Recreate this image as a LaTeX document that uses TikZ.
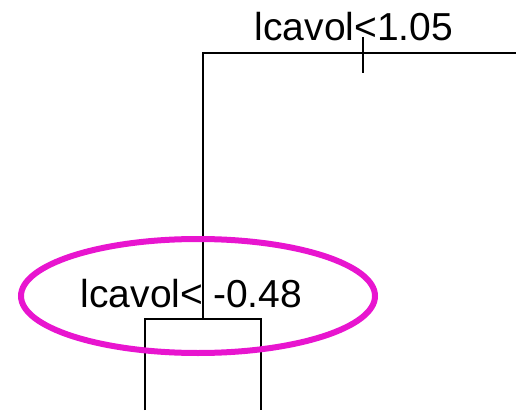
\documentclass[tikz,border=0pt]{standalone}
\usepackage{fontspec}
\setmainfont{Liberation Sans}
\definecolor{hl}{HTML}{E815CF}
\begin{document}
\begin{tikzpicture}[x=1pt,y=1pt,
  branch/.style={line width=1.3pt,black},
  lbl/.style={font=\fontsize{39}{39}\selectfont,inner sep=0pt,anchor=base},
  ring/.style={draw=hl,line width=6pt,ellipse}]
\useasboundingbox (0,0) rectangle (516,410);
% top split
\coordinate (rootL) at (203,357);
\coordinate (rootR) at (516,357);
\coordinate (tickT) at (363,373);
\coordinate (tickB) at (363,337);
\node[lbl] (t1) at (354,369) {lcavol<1.05};
\draw[branch] (rootR) -- (rootL) -- (203,91) coordinate (mid);
\draw[branch] (tickT) -- (tickB);
% second split
\coordinate (boxL) at (145,91);
\coordinate (boxR) at (261,91);
\coordinate (legL) at (145,0);
\coordinate (legR) at (261,0);
\draw[branch] (legL) -- (boxL) -- (boxR) -- (legR);
\fill[white] (198,98) rectangle (209,132);
\node[lbl] (t2) at (191.5,103) {lcavol<\hspace{10pt}-0.48};
\draw[branch] (rootL) -- (mid);
\draw[draw=hl,line width=6pt] (198,114) ellipse [x radius=177, y radius=57];
\end{tikzpicture}
\end{document}
